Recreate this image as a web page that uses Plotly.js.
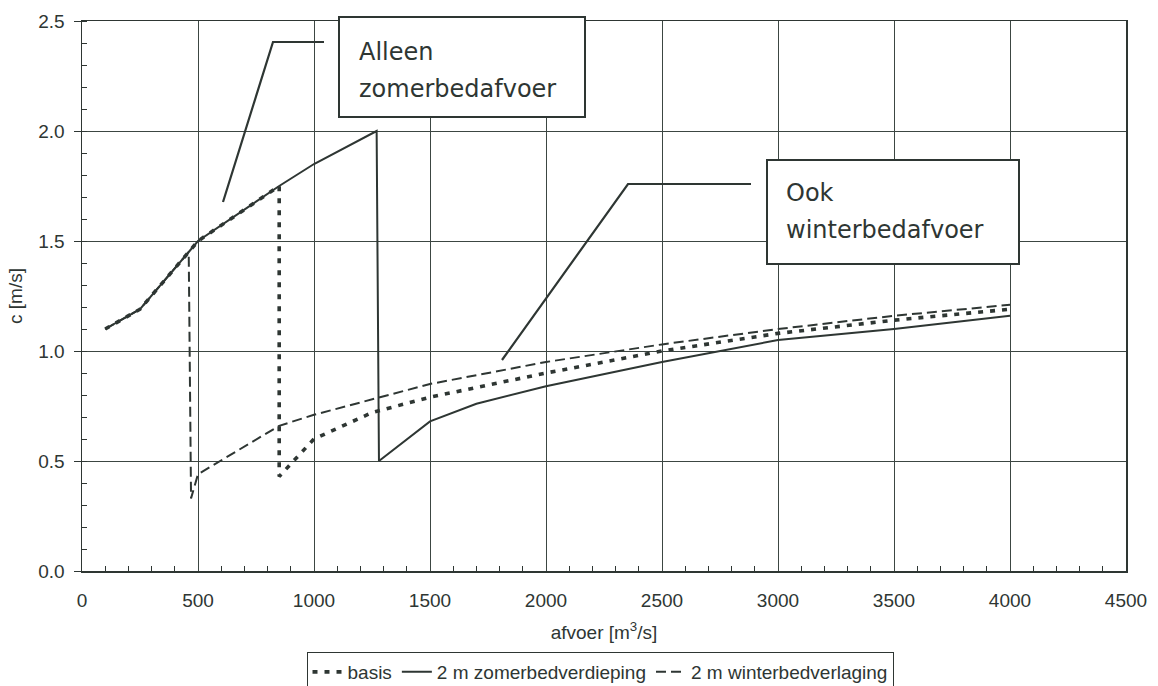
<!DOCTYPE html>
<html>
<head>
<meta charset="utf-8">
<script src="https://cdn.plot.ly/plotly-3.0.1.min.js"></script>
<style>
  html, body { margin: 0; padding: 0; background: #ffffff; }
  #chart { width: 1158px; height: 686px; }
</style>
</head>
<body>
<div id="chart"></div>
<script>
// Afvoer (m3/s) and stroomsnelheid c (m/s) per variant
const basisQ = [100, 250, 460, 500, 850, 850, 1000, 1250, 1500, 2000, 2500, 3000, 3500, 4000];
const basisC = [1.10, 1.19, 1.45, 1.50, 1.75, 0.43, 0.60, 0.72, 0.79, 0.90, 1.00, 1.08, 1.14, 1.19];

const zomerQ = [100, 250, 460, 500, 850, 1000, 1270, 1280, 1500, 1700, 2000, 2500, 3000, 3500, 4000];
const zomerC = [1.10, 1.19, 1.45, 1.50, 1.75, 1.85, 2.00, 0.50, 0.68, 0.76, 0.84, 0.95, 1.05, 1.10, 1.16];

const winterQ = [100, 250, 460, 470, 500, 850, 1000, 1280, 1500, 2000, 2500, 3000, 3500, 4000];
const winterC = [1.10, 1.19, 1.45, 0.33, 0.44, 0.66, 0.71, 0.79, 0.85, 0.95, 1.03, 1.10, 1.16, 1.21];

const seriesNames = ['basis', '2 m zomerbedverdieping', '2 m winterbedverlaging'];

const ink = '#2e3633';
const gridInk = '#3c4642';
const tickFont = { family: 'Liberation Sans, Arial, sans-serif', size: 19, color: ink };
const legendFont = { family: 'Liberation Sans, Arial, sans-serif', size: 19, color: ink };
const boxFont = { family: 'DejaVu Sans, Verdana, sans-serif', size: 24, color: ink };

// plot-area pixel helpers for the callout boxes and texts
const L = 82, R = 32, T = 21, B = 115, W = 1158, H = 686;
const pw = W - L - R, ph = H - T - B;
const px = v => (v - L) / pw;
const py = v => (H - B - v) / ph;

const traces = [
  { x: basisQ, y: basisC, name: seriesNames[0], mode: 'lines',
    line: { color: ink, width: 3.6, dash: '5px,7px' } },
  { x: zomerQ, y: zomerC, name: seriesNames[1], mode: 'lines',
    line: { color: ink, width: 2 } },
  { x: winterQ, y: winterC, name: seriesNames[2], mode: 'lines',
    line: { color: ink, width: 2, dash: '10px,5px' } }
];

const shapes = [
  // callout "Alleen zomerbedafvoer"
  { type: 'path', xref: 'paper', yref: 'paper', layer: 'above',
    path: `M ${px(223)} ${py(202)} L ${px(273)} ${py(42)} L ${px(324)} ${py(42)}`,
    line: { color: ink, width: 2.2 } },
  { type: 'rect', xref: 'paper', yref: 'paper', layer: 'above',
    x0: px(339), x1: px(585), y0: py(117), y1: py(17),
    fillcolor: '#ffffff', line: { color: ink, width: 2 } },
  // callout "Ook winterbedafvoer"
  { type: 'path', xref: 'paper', yref: 'paper', layer: 'above',
    path: `M ${px(502)} ${py(360)} L ${px(628)} ${py(184)} L ${px(751)} ${py(184)}`,
    line: { color: ink, width: 2.2 } },
  { type: 'rect', xref: 'paper', yref: 'paper', layer: 'above',
    x0: px(767), x1: px(1019), y0: py(264), y1: py(160),
    fillcolor: '#ffffff', line: { color: ink, width: 2 } }
];

const boxText = (txt, x, yMid) => ({
  text: txt, xref: 'paper', yref: 'paper', x: px(x), y: py(yMid),
  xanchor: 'left', yanchor: 'middle', showarrow: false, font: boxFont
});

const annotations = [
  boxText('Alleen', 357, 52),
  boxText('zomerbedafvoer', 357, 89),
  boxText('Ook', 784, 193),
  boxText('winterbedafvoer', 784, 230)
];

const layout = {
  width: W, height: H,
  margin: { l: L, r: R, t: T, b: B, autoexpand: false },
  paper_bgcolor: '#ffffff', plot_bgcolor: '#ffffff',
  showlegend: true,
  legend: {
    orientation: 'h', x: px(600), xanchor: 'center', y: py(652), yanchor: 'top',
    bordercolor: ink, borderwidth: 1, font: legendFont,
    itemwidth: 30, tracegroupgap: 0
  },
  xaxis: {
    range: [0, 4500], dtick: 500, tick0: 0,
    showgrid: true, gridcolor: gridInk, gridwidth: 1,
    showline: true, linecolor: ink, linewidth: 1.5, mirror: true,
    ticks: '', tickfont: tickFont, ticklabelstandoff: 12,
    minor: { dtick: 100, ticks: 'inside', ticklen: 5, tickcolor: ink, showgrid: false },
    zeroline: false, automargin: false,
    title: { text: 'afvoer [m<sup>3</sup>/s]', font: tickFont, standoff: 15 }
  },
  yaxis: {
    range: [0, 2.5], dtick: 0.5, tick0: 0, tickformat: '.1f',
    showgrid: true, gridcolor: gridInk, gridwidth: 1,
    showline: true, linecolor: ink, linewidth: 1.5, mirror: true,
    ticks: 'outside', ticklen: 7, tickcolor: ink, tickfont: tickFont, ticklabelstandoff: 5,
    minor: { dtick: 0.1, ticks: 'inside', ticklen: 5, tickcolor: ink, showgrid: false },
    zeroline: false, automargin: false,
    title: { text: 'c [m/s]', font: tickFont, standoff: 10 }
  },
  shapes: shapes,
  annotations: annotations
};

Plotly.newPlot('chart', traces, layout, { displayModeBar: false, staticPlot: true });
</script>
</body>
</html>
